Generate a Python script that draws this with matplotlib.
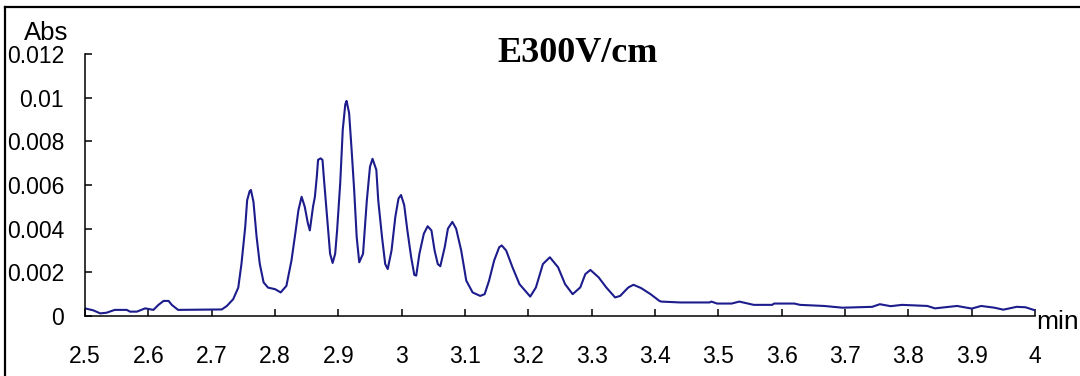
import matplotlib
matplotlib.use("Agg")
import matplotlib.pyplot as plt
from matplotlib.lines import Line2D

# retention time (min) and absorbance
time_min = [
    2.500, 2.513, 2.524, 2.534, 2.547, 2.566, 2.571, 2.582, 2.595, 2.608,
    2.616, 2.624, 2.632, 2.637, 2.647, 2.716, 2.724, 2.734, 2.742, 2.747,
    2.753, 2.756, 2.760, 2.762, 2.766, 2.771, 2.776, 2.782, 2.789, 2.800,
    2.809, 2.818, 2.826, 2.832, 2.837, 2.842, 2.847, 2.852, 2.855, 2.860,
    2.863, 2.866, 2.868, 2.872, 2.875, 2.877, 2.880, 2.884, 2.887, 2.891,
    2.895, 2.898, 2.903, 2.907, 2.911, 2.913, 2.917, 2.921, 2.925, 2.929,
    2.933, 2.939, 2.945, 2.950, 2.954, 2.960, 2.963, 2.969, 2.974, 2.978,
    2.984, 2.990, 2.995, 2.999, 3.004, 3.009, 3.015, 3.020, 3.023,
    3.028, 3.035, 3.041, 3.047, 3.052, 3.057, 3.061, 3.068, 3.073, 3.080,
    3.086, 3.094, 3.102, 3.112, 3.124, 3.131, 3.138, 3.146, 3.154, 3.158,
    3.165, 3.175, 3.186, 3.203, 3.212, 3.223, 3.234, 3.247, 3.258, 3.270,
    3.282, 3.290, 3.298, 3.311, 3.323, 3.337, 3.345, 3.358, 3.366, 3.378,
    3.393, 3.407, 3.410, 3.440, 3.486, 3.489, 3.498, 3.521, 3.533, 3.556,
    3.585, 3.588, 3.620, 3.629, 3.667, 3.696, 3.743, 3.755, 3.772, 3.790,
    3.830, 3.842, 3.877, 3.900, 3.915, 3.936, 3.950, 3.971, 3.985, 4.000,
]
absorbance = [
    0.00035, 0.00026, 0.00012, 0.00015, 0.00028, 0.00028, 0.00020, 0.00020, 0.00035, 0.00028,
    0.00051, 0.00069, 0.00069, 0.00051, 0.00028, 0.00030, 0.00046, 0.00077, 0.00130, 0.00238,
    0.00408, 0.00530, 0.00572, 0.00577, 0.00523, 0.00361, 0.00238, 0.00154, 0.00130, 0.00123,
    0.00108, 0.00138, 0.00254, 0.00377, 0.00485, 0.00546, 0.00500, 0.00423, 0.00392, 0.00500,
    0.00546, 0.00638, 0.00715, 0.00722, 0.00715, 0.00638, 0.00531, 0.00392, 0.00285, 0.00243,
    0.00285, 0.00390, 0.00610, 0.00854, 0.00970, 0.00985, 0.00930, 0.00760, 0.00577, 0.00361,
    0.00246, 0.00285, 0.00530, 0.00684, 0.00720, 0.00669, 0.00530, 0.00361, 0.00238, 0.00215,
    0.00300, 0.00454, 0.00538, 0.00554, 0.00508, 0.00392, 0.00269, 0.00188, 0.00185,
    0.00285, 0.00377, 0.00411, 0.00392, 0.00300, 0.00238, 0.00228, 0.00315, 0.00400, 0.00431,
    0.00400, 0.00300, 0.00162, 0.00108, 0.00092, 0.00100, 0.00162, 0.00254, 0.00315, 0.00323,
    0.00300, 0.00223, 0.00146, 0.00089, 0.00131, 0.00238, 0.00269, 0.00223, 0.00146, 0.00100,
    0.00131, 0.00192, 0.00211, 0.00177, 0.00131, 0.00085, 0.00092, 0.00131, 0.00143, 0.00128,
    0.00100, 0.00069, 0.00066, 0.00062, 0.00062, 0.00066, 0.00057, 0.00057, 0.00066, 0.00051,
    0.00051, 0.00057, 0.00057, 0.00051, 0.00046, 0.00038, 0.00042, 0.00054, 0.00045, 0.00051,
    0.00046, 0.00035, 0.00046, 0.00034, 0.00046, 0.00038, 0.00029, 0.00042, 0.00040, 0.00026,
]

x_ticks = [2.5, 2.6, 2.7, 2.8, 2.9, 3.0, 3.1, 3.2, 3.3, 3.4, 3.5, 3.6, 3.7, 3.8, 3.9, 4.0]
x_labels = ["2.5", "2.6", "2.7", "2.8", "2.9", "3", "3.1", "3.2", "3.3", "3.4",
            "3.5", "3.6", "3.7", "3.8", "3.9", "4"]
y_ticks = [0, 0.002, 0.004, 0.006, 0.008, 0.01, 0.012]
y_labels = ["0", "0.002", "0.004", "0.006", "0.008", "0.01", "0.012"]

plt.rcParams["font.family"] = ["Liberation Sans", "DejaVu Sans"]

fig = plt.figure(figsize=(10.8, 3.76), dpi=100)
ax = fig.add_axes([85 / 1080, 60 / 376, 950 / 1080, 262 / 376])

ax.plot(time_min, absorbance, color="#1c1c8c", lw=1.5, solid_joinstyle="round")

ax.set_xlim(2.5, 4.0)
ax.set_ylim(0, 0.012)
ax.set_xticks(x_ticks)
ax.set_xticklabels(x_labels)
ax.set_yticks(y_ticks)
ax.set_yticklabels(y_labels)
ax.tick_params(axis="both", direction="in", length=5, width=1.1, labelsize=16.5)
ax.tick_params(axis="x", pad=21)
ax.tick_params(axis="y", pad=15)

for side in ("top", "right"):
    ax.spines[side].set_visible(False)
for side in ("left", "bottom"):
    ax.spines[side].set_linewidth(1.1)

fig.text(24 / 1080, 1 - 40 / 376, "Abs", fontsize=18.5, ha="left", va="baseline")
fig.text(1036 / 1080, 1 - 329 / 376, "min", fontsize=19, ha="left", va="baseline")
fig.text(578 / 1080, 1 - 62 / 376, "E300V/cm", fontsize=26, fontweight="bold",
         family=["Liberation Serif", "DejaVu Serif"], ha="center", va="baseline")

# outer frame (top and left edges visible)
top_y = 1 - 6.5 / 376
left_x = 4.5 / 1080
fig.add_artist(Line2D([left_x, 1.0], [top_y, top_y], color="black", lw=1.6))
fig.add_artist(Line2D([left_x, left_x], [0.0, top_y], color="black", lw=1.6))

fig.savefig("out.png", dpi=100)
